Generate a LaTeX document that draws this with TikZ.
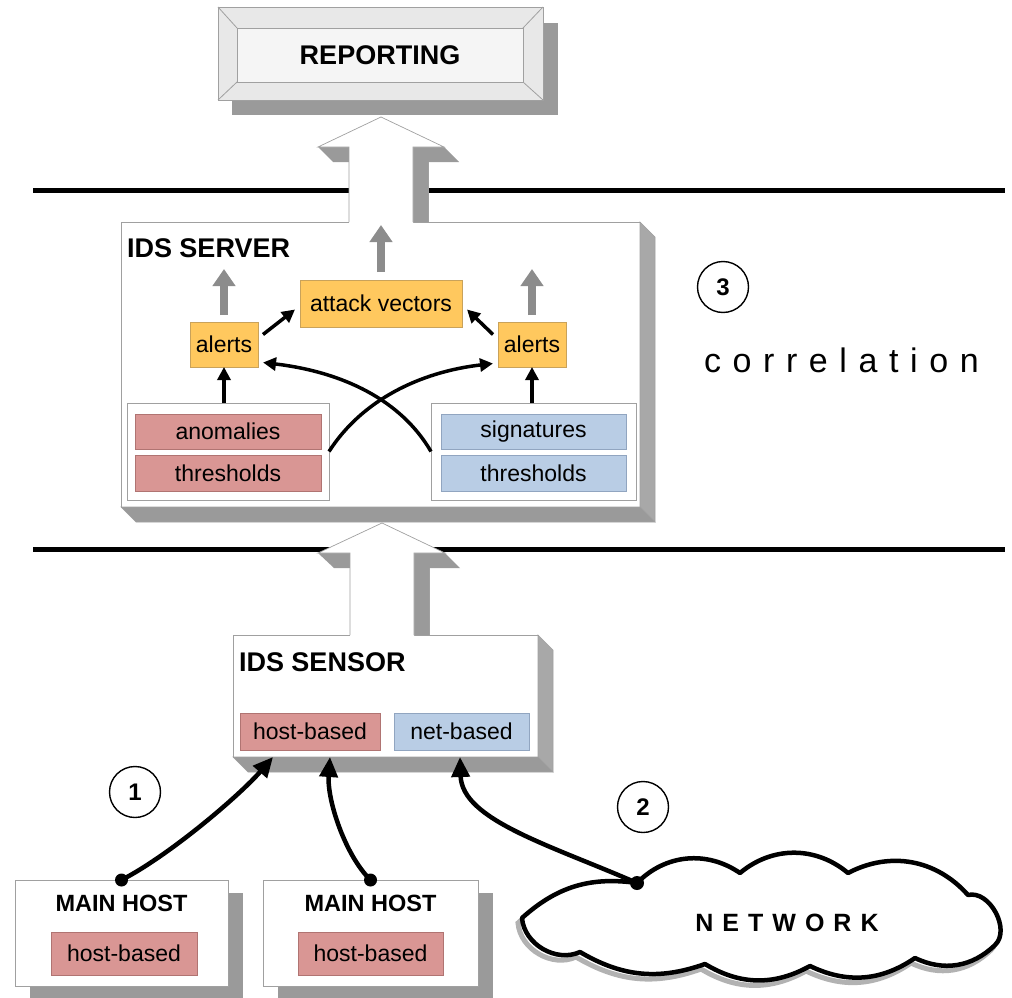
\documentclass[tikz,border=0pt]{standalone}
\usepackage{fontspec}
\setmainfont{Liberation Sans}
\usetikzlibrary{arrows.meta}
\definecolor{orng}{HTML}{FFC85E}
\definecolor{orngd}{HTML}{C9A25A}
\definecolor{rdf}{HTML}{D99694}
\definecolor{rdd}{HTML}{B07472}
\definecolor{blf}{HTML}{B9CDE5}
\definecolor{bld}{HTML}{91A5C0}
\definecolor{shd}{HTML}{9A9A9A}
\definecolor{shs}{HTML}{A8A8A8}
\definecolor{edg}{HTML}{A0A0A0}
\definecolor{garr}{HTML}{8C8C8C}
\newcommand\gapA{\kern11.6pt}
\newcommand\gapB{\kern9pt}
\begin{document}
\begin{tikzpicture}[x=1pt,y=-1pt,
 every node/.style={inner sep=0pt,outer sep=0pt},
 txt/.style={font=\fontsize{23}{25}\selectfont},
 hdr/.style={font=\fontsize{#1}{#1}\selectfont\bfseries},
 orbox/.style={draw=orngd,line width=0.8pt,fill=orng,txt},
 rdbox/.style={draw=rdd,line width=0.8pt,fill=rdf,txt},
 blbox/.style={draw=bld,line width=0.8pt,fill=blf,txt},
 whpanel/.style={draw=edg,line width=0.8pt,fill=white},
 gryarr/.style={draw=garr,line width=8pt,-{Triangle[length=17pt,width=22pt]}},
 blkarr/.style={draw=black,line width=3.5pt,-{Triangle[length=13pt,width=13pt]}},
 bigconn/.style={draw=black,line width=4.5pt,-{Triangle[length=20pt,width=18pt]}},
 numcirc/.style={circle,draw=black,line width=1.4pt,minimum size=51pt,font=\fontsize{24}{24}\selectfont\bfseries},
 sidefill/.style={fill=shs,draw=edg,line width=0.6pt},
 botfill/.style={fill=shd,draw=edg,line width=0.6pt}
]
\useasboundingbox (0,0) rectangle (1012,998);

% separator lines
\coordinate (l1a) at (33,190); \coordinate (l1b) at (1005,190);
\coordinate (l2a) at (33,549); \coordinate (l2b) at (1005,549);
\draw[line width=5pt] (l1a) -- (l1b);
\draw[line width=5pt] (l2a) -- (l2b);

% REPORTING
\fill[shd] (232,23) rectangle (558,115);
\node[draw=edg, fill=gray!18, line width=0.8pt, minimum width=325pt, minimum height=93pt] (repo) at (380.5,53.5) {};
\node[draw=edg, fill=gray!8, line width=0.8pt, minimum width=286pt, minimum height=54pt, hdr=27] (rep) at (380,55) {REPORTING};
\draw[edg, line width=0.8pt] (repo.north west) -- (rep.north west) (repo.north east) -- (rep.north east)
  (repo.south west) -- (rep.south west) (repo.south east) -- (rep.south east);

% IDS SERVER
\node[draw=edg, fill=white, line width=0.8pt, minimum width=519pt, minimum height=285pt] (srv) at (380.5,364.5) {};
\filldraw[sidefill] (srv.north east) -- ++(15,15) -- ([shift={(15,15)}]srv.south east) -- (srv.south east) -- cycle;
\filldraw[botfill] (srv.south west) -- ([shift={(15,15)}]srv.south west) -- ([shift={(15,15)}]srv.south east) -- (srv.south east) -- cycle;
\node[hdr=27, anchor=west] (srvl) at (127,248) {IDS SERVER};

\node[whpanel, minimum width=202pt, minimum height=97pt] (lp) at (228,451.5) {};
\node[whpanel, minimum width=205pt, minimum height=97pt] (rp) at (533.5,451.5) {};
\node[rdbox, minimum width=186pt, minimum height=35pt] (an) at (228,431.5) {anomalies};
\node[rdbox, minimum width=186pt, minimum height=36pt] (th1) at (228,473) {thresholds};
\node[blbox, minimum width=185pt, minimum height=35pt] (sig) at (533.5,431.5) {signatures};
\node[blbox, minimum width=185pt, minimum height=36pt] (th2) at (533.5,473) {thresholds};

\node[orbox, minimum width=68pt, minimum height=45pt] (al1) at (224,344.5) {alerts};
\node[orbox, minimum width=68pt, minimum height=45pt] (al2) at (532,344.5) {alerts};
\node[orbox, minimum width=162pt, minimum height=47pt] (av) at (381,303.5) {attack vectors};

\draw[gryarr] ([yshift=7pt]al1.north) -- ([yshift=53pt]al1.north);
\draw[gryarr] ([yshift=7pt]al2.north) -- ([yshift=53pt]al2.north);
\draw[gryarr] ([yshift=8pt]av.north) -- ([yshift=55pt]av.north);
\draw[blkarr] (al1 |- lp.north) -- (al1.south);
\draw[blkarr] (al2 |- rp.north) -- (al2.south);
\draw[blkarr] ([xshift=5pt,yshift=10pt]al1.east) -- ([xshift=-5pt,yshift=-6pt]av.west);
\draw[blkarr] ([xshift=-5pt,yshift=10pt]al2.west) -- ([xshift=5pt,yshift=-6pt]av.east);
\draw[blkarr] (lp.east) .. controls (362,400) and (420,372) .. ([xshift=-5pt,yshift=-19pt]al2.west);
\draw[blkarr] (rp.west) .. controls (401,400) and (343,372) .. ([xshift=5pt,yshift=-18pt]al1.east);

% arrow server -> reporting
\coordinate (ra) at (381,117);
\fill[shd] (318,147) -- (349,147) -- (349,162) -- (333,162) -- cycle;
\fill[shd] (413,147) -- (444,147) -- (459,162) -- (428,162) -- (428,222) -- (413,222) -- cycle;
\draw[edg, line width=0.6pt] (428,162) -- (428,222);
\fill[white] (ra) -- (444,147) -- (413,147) -- (413,223) -- (349,223) -- (349,147) -- (318,147) -- cycle;
\draw[edg, line width=0.7pt] (349,222) -- (349,147) -- (318,147) -- (ra) -- (444,147) -- (413,147) -- (413,222);

% IDS SENSOR
\node[draw=edg, fill=white, line width=0.8pt, minimum width=305pt, minimum height=122pt] (sen) at (385.5,696) {};
\filldraw[sidefill] (sen.north east) -- ++(15,15) -- ([shift={(15,15)}]sen.south east) -- (sen.south east) -- cycle;
\filldraw[botfill] (sen.south west) -- ([shift={(15,15)}]sen.south west) -- ([shift={(15,15)}]sen.south east) -- (sen.south east) -- cycle;
\node[hdr=27, anchor=west] (senl) at (239,662) {IDS SENSOR};
\node[rdbox, minimum width=140pt, minimum height=37pt] (hb) at (310,731.5) {host-based};
\node[blbox, minimum width=135pt, minimum height=37pt] (nb) at (461.5,731.5) {net-based};

% arrow sensor -> server
\coordinate (sa) at (382,523);
\fill[shd] (318,553) -- (350,553) -- (350,568) -- (334,568) -- cycle;
\fill[shd] (414,553) -- (445,553) -- (460,568) -- (429,568) -- (429,635) -- (414,635) -- cycle;
\draw[edg, line width=0.6pt] (429,568) -- (429,635);
\fill[white] (sa) -- (445,553) -- (414,553) -- (414,636) -- (350,636) -- (350,553) -- (318,553) -- cycle;
\draw[edg, line width=0.7pt] (350,635) -- (350,553) -- (318,553) -- (sa) -- (445,553) -- (414,553) -- (414,635);

% MAIN HOSTs
\fill[shd] (30,893) rectangle (243,1000);
\fill[shd] (278,893) rectangle (493,1000);
\node[draw=edg, fill=white, line width=0.8pt, minimum width=213pt, minimum height=106pt] (h1) at (121.5,933) {};
\node[draw=edg, fill=white, line width=0.8pt, minimum width=215pt, minimum height=106pt] (h2) at (370.5,933) {};
\node[hdr=23.5] (h1l) at (121.5,903) {MAIN HOST};
\node[hdr=23.5] (h2l) at (370.5,903) {MAIN HOST};
\node[rdbox, minimum width=146pt, minimum height=43pt] (hb1) at (124,953.5) {host-based};
\node[rdbox, minimum width=145pt, minimum height=43pt] (hb2) at (370.5,953.5) {host-based};

% NETWORK cloud
\begin{scope}[shift={(-4,5)}]
\draw[gray!60, line width=5pt] (522,918) to[bend left=25] (637,883) to[bend left=40] (740,873) to[bend left=40] (848,873)
  to[bend left=38] (968,895) to[bend left=75] (995,945) to[bend left=35] (915,958) to[bend left=30] (810,966)
  to[bend left=30] (705,964) to[bend left=25] (580,952) to[bend left=55] (522,918) -- cycle;
\end{scope}
\filldraw[fill=white, draw=black, line width=4.5pt, line join=round] (522,918) to[bend left=25] (637,883) to[bend left=40] (740,873) to[bend left=40] (848,873)
  to[bend left=38] (968,895) to[bend left=75] (995,945) to[bend left=35] (915,958) to[bend left=30] (810,966)
  to[bend left=30] (705,964) to[bend left=25] (580,952) to[bend left=55] (522,918) -- cycle;
\node[hdr=25] (net) at (787,923) {N\gapB E\gapB T\gapB W\gapB O\gapB R\gapB K};
\coordinate (netdot) at (637,883);

% connectors to sensor
\coordinate (sA) at ([xshift=40pt]sen.south west);
\coordinate (sB) at ([xshift=97pt]sen.south west);
\coordinate (sC) at ([xshift=227pt]sen.south west);
\draw[bigconn] (h1.north) .. controls (170,855) and (240,795) .. (sA);
\draw[bigconn] (h2.north) .. controls (345,855) and (327,800) .. (sB);
\draw[bigconn] (netdot) .. controls (550,845) and (462,820) .. (sC);
\fill (h1.north) circle (6.5pt);
\fill (h2.north) circle (6.5pt);
\fill (netdot) circle (7pt);

% numbers and correlation
\node[numcirc] (n1) at (135,792) {1};
\node[numcirc] (n2) at (643,807) {2};
\node[numcirc] (n3) at (723,287) {3};
\node[font=\fontsize{34}{34}\selectfont, anchor=west] (corr) at (704,360) {c\gapA o\gapA r\gapA r\gapA e\gapA l\gapA a\gapA t\gapA i\gapA o\gapA n};
\end{tikzpicture}
\end{document}
